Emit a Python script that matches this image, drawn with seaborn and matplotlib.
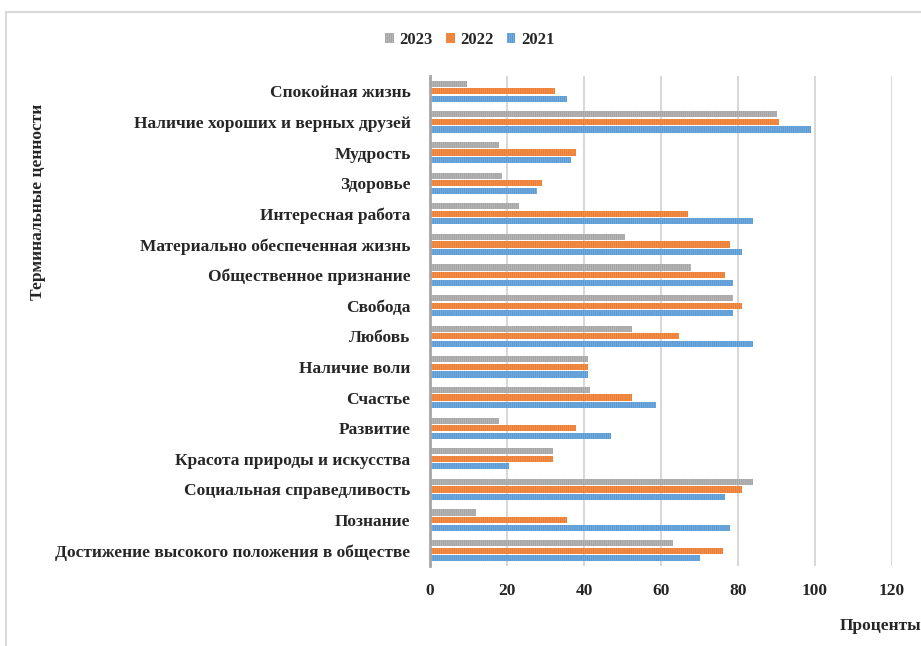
import matplotlib
matplotlib.use("Agg")
import matplotlib.pyplot as plt
import seaborn as sns
import pandas as pd
from matplotlib.patches import Rectangle, Patch

categories = [
    "Спокойная жизнь",
    "Наличие хороших и верных друзей",
    "Мудрость",
    "Здоровье",
    "Интересная работа",
    "Материально обеспеченная жизнь",
    "Общественное признание",
    "Свобода",
    "Любовь",
    "Наличие воли",
    "Счастье",
    "Развитие",
    "Красота природы и искусства",
    "Социальная справедливость",
    "Познание",
    "Достижение высокого положения в обществе",
]
years = ["2023", "2022", "2021"]
values_2023 = [9.5, 90, 18, 18.6, 23, 50.6, 67.8, 78.6, 52.5, 41, 41.6, 18, 32, 84, 12, 63]
values_2022 = [32.5, 90.7, 38, 29, 67, 77.8, 76.7, 81, 64.7, 41, 52.5, 38, 32, 81, 35.6, 76]
values_2021 = [35.6, 99, 36.7, 27.7, 84, 81, 78.6, 78.6, 84, 41, 58.6, 47, 20.5, 76.7, 77.8, 70]
x_ticks = [0, 20, 40, 60, 80, 100, 120]

colors = {"2023": "#A5A5A5", "2022": "#ED7D31", "2021": "#5B9BD5"}
hatch_colors = {"2023": "#BEBEBE", "2022": "#F29A5E", "2021": "#7FB1E0"}

rows = []
for y, vals in zip(years, [values_2023, values_2022, values_2021]):
    for c, v in zip(categories, vals):
        rows.append({"cat": c, "year": y, "val": v})
df = pd.DataFrame(rows)

sns.set_theme(style="white")
plt.rcParams["font.family"] = ["Liberation Serif", "DejaVu Serif"]
plt.rcParams["hatch.linewidth"] = 0.5

W, H = 921, 646
fig = plt.figure(figsize=(W / 100, H / 100), dpi=100)
left, right = 430 / W, 892 / W
top, bottom = 1 - 76 / H, 1 - 566 / H
ax = fig.add_axes([left, bottom, right - left, top - bottom])

sns.barplot(data=df, y="cat", x="val", hue="year", hue_order=years,
            order=categories, palette=colors, orient="h", width=0.74,
            gap=0.18, ax=ax, legend=False, linewidth=0, saturation=1)

# striped texture like the Excel pattern fill
for container, y in zip(ax.containers, years):
    for bar in container:
        bar.set_hatch("||||||||")
        bar.set_edgecolor(hatch_colors[y])
        bar.set_linewidth(0)

ax.set_xlim(0, 120)
ax.set_xticks(x_ticks)
ax.set_xticklabels([str(t) for t in x_ticks], fontsize=12.5, fontweight="bold")
ax.tick_params(axis="x", length=0, pad=12)
ax.tick_params(axis="y", length=0, pad=14)
for lbl in ax.get_yticklabels():
    lbl.set_fontsize(12.5)
    lbl.set_fontweight("bold")
ax.set_xlabel("")
ax.set_ylabel("")
ax.grid(axis="x", color="#D9D9D9", linewidth=1.5)
ax.set_axisbelow(True)
for s in ["top", "right", "bottom"]:
    ax.spines[s].set_visible(False)
ax.spines["left"].set_color("#A6A6A6")
ax.spines["left"].set_linewidth(2)

# legend
handles = [Patch(facecolor=colors[y], edgecolor=hatch_colors[y], hatch="||||||||", linewidth=0) for y in years]
fig.legend(handles, years, loc="center", bbox_to_anchor=(470 / W, 1 - 40 / H),
           ncol=3, frameon=False, handlelength=0.5, handleheight=0.5,
           handletextpad=0.35, columnspacing=0.8,
           prop={"family": "Liberation Serif", "weight": "bold", "size": 12})

fig.text(38 / W, 1 - 202 / H, "Терминальные ценности", rotation=90,
         ha="center", va="center", fontsize=12.5, fontweight="bold")
fig.text(840 / W, 1 - 626 / H, "Проценты", ha="left", va="center",
         fontsize=12.5, fontweight="bold")

# outer frame of the chart area
fig.add_artist(Rectangle((6 / W, -0.05), 1.1, 1 - 12 / H + 0.05,
                         transform=fig.transFigure, fill=False,
                         edgecolor="#D9D9D9", linewidth=1.5))

fig.savefig("out.png", dpi=100, facecolor="white")
